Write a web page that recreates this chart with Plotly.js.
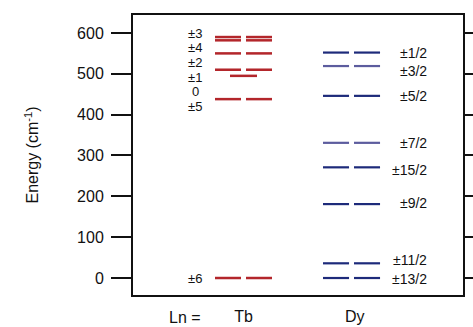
<!DOCTYPE html>
<html>
<head>
<meta charset="utf-8">
<script src="https://cdn.plot.ly/plotly-3.0.1.min.js"></script>
<style>html,body{margin:0;padding:0;background:#fff;}#chart{width:473px;height:327px;}</style>
</head>
<body>
<div id="chart"></div>
<script>
// Data
const categories = ['Tb', 'Dy'];
const tbLevels = [590, 582, 550, 510, 495, 438, 0];
const tbSplit = [true, true, true, true, false, true, true];
const tbLabels = ['±3', '±4', '±2', '±1', '0', '±5', '±6'];
const tbLabelY = [598, 564, 528, 492, 456, 420, 0];
const dyLevels = [552, 519, 446, 331, 271, 181, 36, 0];
const dyLabels = ['±1/2', '±3/2', '±5/2', '±7/2', '±15/2', '±9/2', '±11/2', '±13/2'];
const dyLabelY = [552, 508, 446, 331, 265, 184, 44, -2];
const dyLight = [false, true, false, true, false, false, false, false];

const red = '#b3262b';
const navy = '#1d2a7a';
const lilac = '#5c5c9e';
const traces = [];
function seg(c, y, split) {
  if (split) return {x: [c - 0.264, c - 0.023, null, c + 0.023, c + 0.264], y: [y, y, null, y, y]};
  return {x: [c - 0.125, c + 0.125], y: [y, y]};
}
tbLevels.forEach((v, i) => {
  const s = seg(1, v, tbSplit[i]);
  traces.push({type: 'scatter', mode: 'lines', x: s.x, y: s.y, line: {color: red, width: 2.5}, hoverinfo: 'skip', showlegend: false});
});
dyLevels.forEach((v, i) => {
  const s = seg(2, v, true);
  traces.push({type: 'scatter', mode: 'lines', x: s.x, y: s.y, line: {color: dyLight[i] ? lilac : navy, width: 2.2}, hoverinfo: 'skip', showlegend: false});
});

const font = {family: 'Liberation Sans, Arial, sans-serif', color: '#111'};
const annotations = [];
tbLabels.forEach((t, i) => annotations.push({x: 1 - 0.449, y: tbLabelY[i], text: t, showarrow: false, xanchor: 'center', font: Object.assign({size: 13}, font)}));
dyLabels.forEach((t, i) => annotations.push({x: 2 + 0.718, y: dyLabelY[i], text: t, showarrow: false, xanchor: 'right', font: Object.assign({size: 14}, font)}));
annotations.push({xref: 'paper', yref: 'paper', x: 0.158, y: -0.079, yanchor: 'middle', xanchor: 'center', text: 'Ln =', showarrow: false, font: Object.assign({size: 16}, font)});

const layout = {
  width: 473, height: 327,
  margin: {l: 133, r: 10, t: 15, b: 32},
  paper_bgcolor: '#fff', plot_bgcolor: '#fff',
  font: font,
  xaxis: {range: [-0.023, 3.032], showgrid: false, zeroline: false, showline: true, linewidth: 2, linecolor: '#111', mirror: true,
          tickmode: 'array', tickvals: [1.0, 2.03], ticktext: categories, ticks: '', tickfont: Object.assign({size: 16}, font), ticklabelstandoff: 6},
  yaxis: {range: [-41.6, 644], showgrid: false, zeroline: false, showline: true, linewidth: 2, linecolor: '#111', mirror: 'ticks',
          tickvals: [0, 100, 200, 300, 400, 500, 600], ticks: 'outside', ticklen: 20, tickwidth: 2, tickcolor: '#111',
          tickfont: Object.assign({size: 16}, font), ticklabelstandoff: 4,
          title: {text: 'Energy (cm<sup>-1</sup>)', font: Object.assign({size: 16}, font), standoff: 34}},
  annotations: annotations
};
Plotly.newPlot('chart', traces, layout, {displayModeBar: false, staticPlot: true});
</script>
</body>
</html>
